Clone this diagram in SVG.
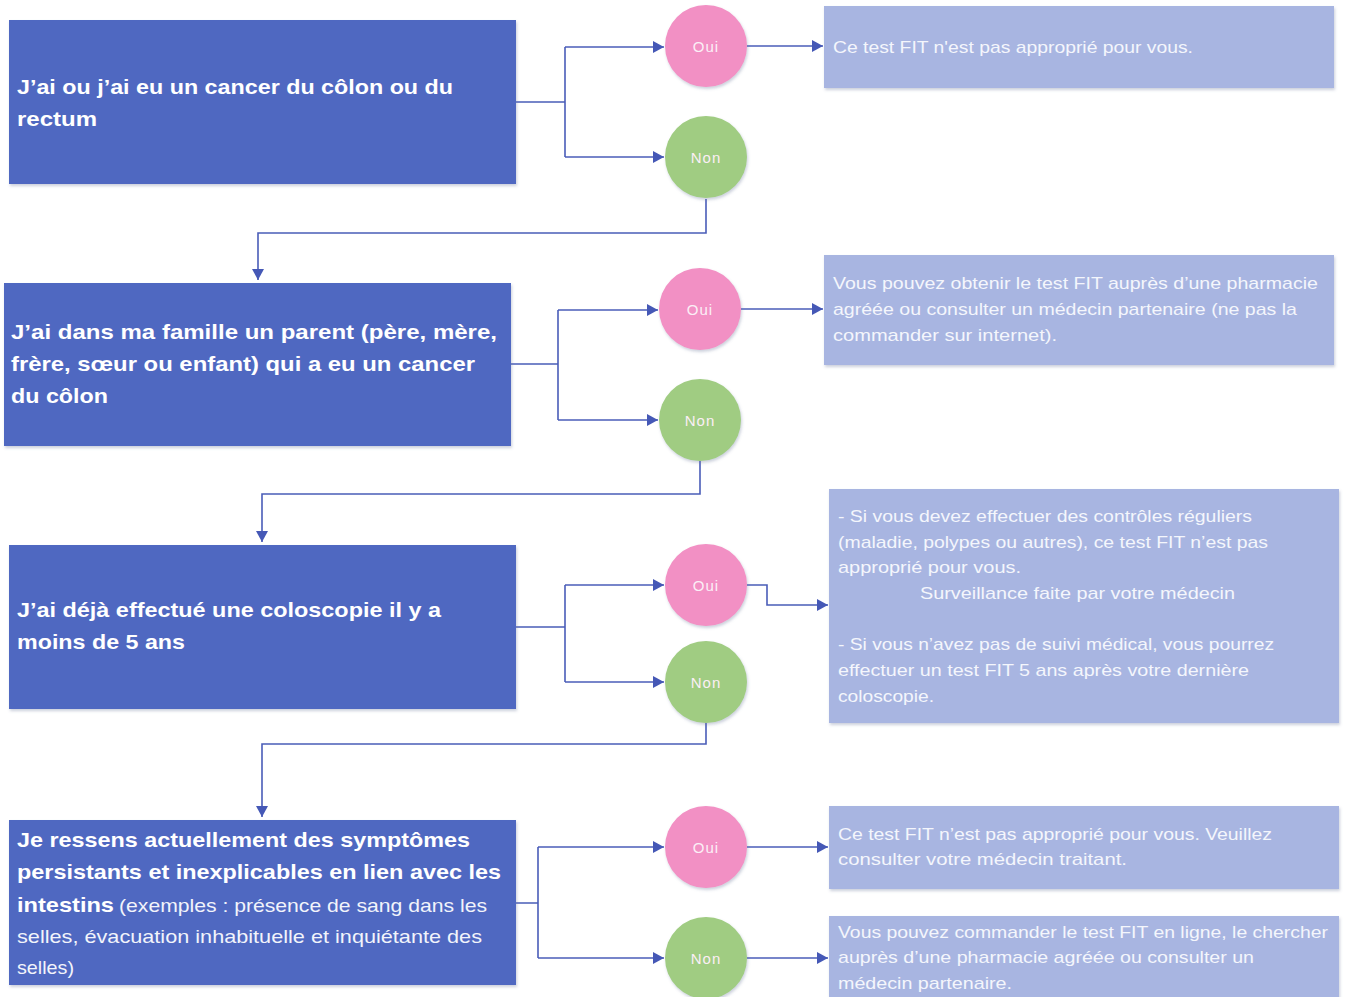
<svg xmlns="http://www.w3.org/2000/svg" width="1345" height="997" viewBox="0 0 1345 997">
<defs>
<filter id="sh" x="-5%" y="-5%" width="110%" height="115%">
<feDropShadow dx="1" dy="2" stdDeviation="1.5" flood-color="#6a7a9a" flood-opacity="0.35"/>
</filter>
<marker id="ah" markerUnits="userSpaceOnUse" markerWidth="11" markerHeight="12" refX="11" refY="6" orient="auto">
<path d="M0,0 L11,6 L0,12 z" fill="#4558B6"/>
</marker>
<style>
.q{fill:#5067C1;filter:url(#sh)}
.r{fill:#A8B5E1;filter:url(#sh)}
.oui{fill:#F290C4;filter:url(#sh)}
.non{fill:#A0CC82;filter:url(#sh)}
.qt{font-family:"Liberation Sans",Arial,sans-serif;font-weight:bold;font-size:21px;fill:#FFFFFF}
.qn{font-family:"Liberation Sans",Arial,sans-serif;font-weight:normal;font-size:19px;fill:#F2F4FB}
.rt{font-family:"Liberation Sans",Arial,sans-serif;font-size:17px;fill:#F4F6FC}
.ct{font-family:"Liberation Sans",Arial,sans-serif;font-size:15px;fill:#FBEFF6;text-anchor:middle;letter-spacing:1px}
.cn{fill:none;stroke:#4A5DB8;stroke-width:1.6}
</style>
</defs>
<rect width="1345" height="997" fill="#FFFFFF"/>

<g id="connectors">
<path class="cn" d="M516,102 H565 M565,47 V157"/>
<path class="cn" d="M565,47 H664" marker-end="url(#ah)"/>
<path class="cn" d="M565,157 H664" marker-end="url(#ah)"/>
<path class="cn" d="M747,46 H823" marker-end="url(#ah)"/>
<path class="cn" d="M706,199 V233 H258 V280" marker-end="url(#ah)"/>
<path class="cn" d="M511,364 H558 M558,310 V420"/>
<path class="cn" d="M558,310 H658" marker-end="url(#ah)"/>
<path class="cn" d="M558,420 H658" marker-end="url(#ah)"/>
<path class="cn" d="M741,309 H823" marker-end="url(#ah)"/>
<path class="cn" d="M700,461 V494 H262 V542" marker-end="url(#ah)"/>
<path class="cn" d="M516,627 H565 M565,585 V682"/>
<path class="cn" d="M565,585 H664" marker-end="url(#ah)"/>
<path class="cn" d="M565,682 H664" marker-end="url(#ah)"/>
<path class="cn" d="M747,585 H767 V605 H828" marker-end="url(#ah)"/>
<path class="cn" d="M706,723 V744 H262 V817" marker-end="url(#ah)"/>
<path class="cn" d="M516,903 H538 M538,847 V958"/>
<path class="cn" d="M538,847 H664" marker-end="url(#ah)"/>
<path class="cn" d="M538,958 H664" marker-end="url(#ah)"/>
<path class="cn" d="M747,847 H828" marker-end="url(#ah)"/>
<path class="cn" d="M747,958 H828" marker-end="url(#ah)"/>
</g>

<g id="q1">
<rect class="q" x="9" y="20" width="507" height="164"/>
<text class="qt" x="17" y="94" textLength="436" lengthAdjust="spacingAndGlyphs">J’ai ou j’ai eu un cancer du côlon ou du</text>
<text class="qt" x="17" y="126" textLength="80" lengthAdjust="spacingAndGlyphs">rectum</text>
</g>
<g id="oui1"><circle class="oui" cx="706" cy="46" r="41"/><text class="ct" x="706" y="52">Oui</text></g>
<g id="non1"><circle class="non" cx="706" cy="157" r="41"/><text class="ct" x="706" y="163">Non</text></g>
<g id="r1">
<rect class="r" x="824" y="6" width="510" height="82"/>
<text class="rt" x="833" y="53" textLength="360" lengthAdjust="spacingAndGlyphs">Ce test FIT n'est pas approprié pour vous.</text>
</g>

<g id="q2">
<rect class="q" x="4" y="283" width="507" height="163"/>
<text class="qt" x="11" y="339" textLength="486" lengthAdjust="spacingAndGlyphs">J’ai dans ma famille un parent (père, mère,</text>
<text class="qt" x="11" y="371" textLength="464" lengthAdjust="spacingAndGlyphs">frère, sœur ou enfant) qui a eu un cancer</text>
<text class="qt" x="11" y="403" textLength="97" lengthAdjust="spacingAndGlyphs">du côlon</text>
</g>
<g id="oui2"><circle class="oui" cx="700" cy="309" r="41"/><text class="ct" x="700" y="315">Oui</text></g>
<g id="non2"><circle class="non" cx="700" cy="420" r="41"/><text class="ct" x="700" y="426">Non</text></g>
<g id="r2">
<rect class="r" x="824" y="255" width="510" height="110"/>
<text class="rt" x="833" y="289" textLength="485" lengthAdjust="spacingAndGlyphs">Vous pouvez obtenir le test FIT auprès d’une pharmacie</text>
<text class="rt" x="833" y="315" textLength="464" lengthAdjust="spacingAndGlyphs">agréée ou consulter un médecin partenaire (ne pas la</text>
<text class="rt" x="833" y="341" textLength="224" lengthAdjust="spacingAndGlyphs">commander sur internet).</text>
</g>

<g id="q3">
<rect class="q" x="9" y="545" width="507" height="164"/>
<text class="qt" x="17" y="617" textLength="424" lengthAdjust="spacingAndGlyphs">J’ai déjà effectué une coloscopie il y a</text>
<text class="qt" x="17" y="649" textLength="168" lengthAdjust="spacingAndGlyphs">moins de 5 ans</text>
</g>
<g id="oui3"><circle class="oui" cx="706" cy="585" r="41"/><text class="ct" x="706" y="591">Oui</text></g>
<g id="non3"><circle class="non" cx="706" cy="682" r="41"/><text class="ct" x="706" y="688">Non</text></g>
<g id="r3">
<rect class="r" x="829" y="489" width="510" height="234"/>
<text class="rt" x="838" y="522" textLength="414" lengthAdjust="spacingAndGlyphs">- Si vous devez effectuer des contrôles réguliers</text>
<text class="rt" x="838" y="548" textLength="430" lengthAdjust="spacingAndGlyphs">(maladie, polypes ou autres), ce test FIT n’est pas</text>
<text class="rt" x="838" y="573" textLength="183" lengthAdjust="spacingAndGlyphs">approprié pour vous.</text>
<text class="rt" x="920" y="599" textLength="315" lengthAdjust="spacingAndGlyphs">Surveillance faite par votre médecin</text>
<text class="rt" x="838" y="650" textLength="436" lengthAdjust="spacingAndGlyphs">- Si vous n’avez pas de suivi médical, vous pourrez</text>
<text class="rt" x="838" y="676" textLength="411" lengthAdjust="spacingAndGlyphs">effectuer un test FIT 5 ans après votre dernière</text>
<text class="rt" x="838" y="702" textLength="96" lengthAdjust="spacingAndGlyphs">coloscopie.</text>
</g>

<g id="q4">
<rect class="q" x="9" y="820" width="507" height="165"/>
<text class="qt" x="17" y="847" textLength="453" lengthAdjust="spacingAndGlyphs">Je ressens actuellement des symptômes</text>
<text class="qt" x="17" y="879" textLength="484" lengthAdjust="spacingAndGlyphs">persistants et inexplicables en lien avec les</text>
<text class="qt" x="17" y="912" textLength="97" lengthAdjust="spacingAndGlyphs">intestins</text>
<text class="qn" x="119" y="912" textLength="368" lengthAdjust="spacingAndGlyphs">(exemples :  présence de sang dans les</text>
<text class="qn" x="17" y="943" textLength="465" lengthAdjust="spacingAndGlyphs">selles, évacuation inhabituelle et inquiétante des</text>
<text class="qn" x="17" y="974" textLength="57" lengthAdjust="spacingAndGlyphs">selles)</text>
</g>
<g id="oui4"><circle class="oui" cx="706" cy="847" r="41"/><text class="ct" x="706" y="853">Oui</text></g>
<g id="non4"><circle class="non" cx="706" cy="958" r="41"/><text class="ct" x="706" y="964">Non</text></g>
<g id="r4">
<rect class="r" x="829" y="806" width="510" height="83"/>
<text class="rt" x="838" y="840" textLength="434" lengthAdjust="spacingAndGlyphs">Ce test FIT n’est pas approprié pour vous. Veuillez</text>
<text class="rt" x="838" y="865" textLength="289" lengthAdjust="spacingAndGlyphs">consulter votre médecin traitant.</text>
</g>
<g id="r5">
<rect class="r" x="829" y="916" width="510" height="90"/>
<text class="rt" x="838" y="938" textLength="490" lengthAdjust="spacingAndGlyphs">Vous pouvez commander le test FIT en ligne, le chercher</text>
<text class="rt" x="838" y="963" textLength="416" lengthAdjust="spacingAndGlyphs">auprès d’une pharmacie agréée ou consulter un</text>
<text class="rt" x="838" y="989" textLength="174" lengthAdjust="spacingAndGlyphs">médecin partenaire.</text>
</g>
</svg>
